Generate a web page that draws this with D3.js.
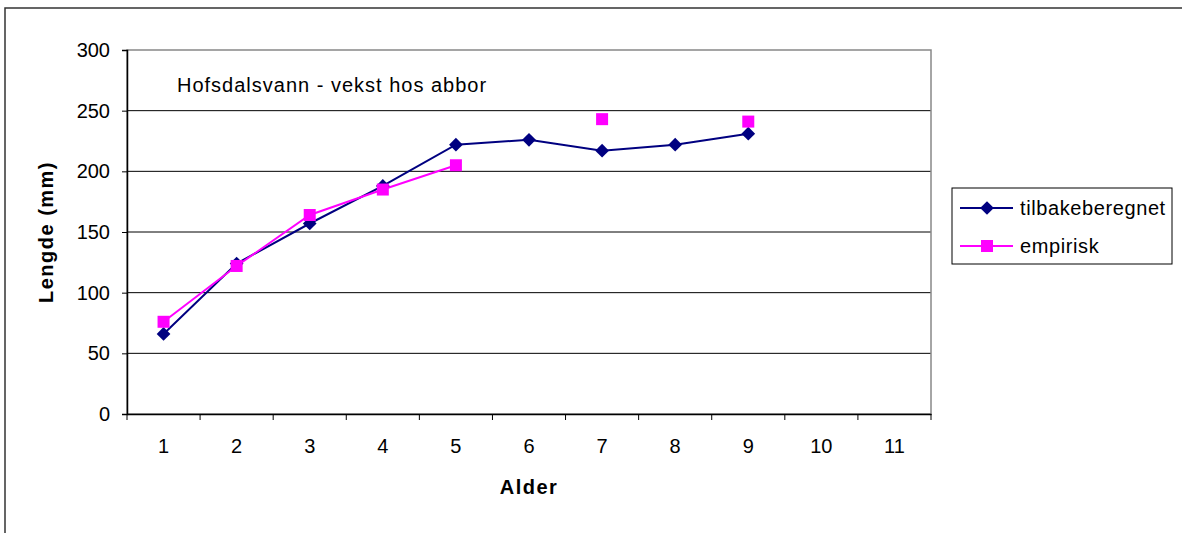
<!DOCTYPE html>
<html>
<head>
<meta charset="utf-8">
<script src="https://cdn.jsdelivr.net/npm/d3@7"></script>
<style>
  body { margin: 0; background: #fff; }
  text { font-family: "Liberation Sans", Arial, sans-serif; fill: #000; }
</style>
</head>
<body>
<svg id="chart" width="1182" height="533"></svg>
<script>
// data
var ages = ["1", "2", "3", "4", "5", "6", "7", "8", "9", "10", "11"];
var tilbakeberegnet = [66, 124, 157, 188, 222, 226, 217, 222, 231, null, null];
var empirisk = [76, 122, 164, 185, 205, null, 243, null, 241, null, null];
var yTicks = [0, 50, 100, 150, 200, 250, 300];

var svg = d3.select("#chart");

// outer chart border
svg.append("rect")
    .attr("x", 5).attr("y", 8)
    .attr("width", 1200).attr("height", 600)
    .attr("fill", "#fff")
    .attr("stroke", "#333")
    .attr("stroke-width", 1.5);

var plot = {left: 127, top: 50, right: 931, bottom: 414};
var w = plot.right - plot.left, h = plot.bottom - plot.top;

var x = d3.scaleBand().domain(ages).range([plot.left, plot.right]);
var y = d3.scaleLinear().domain([0, 300]).range([plot.bottom, plot.top]);

var g = svg.append("g");

// grid lines
g.selectAll(".grid")
    .data(yTicks.filter(function(d) { return d > 0 && d < 300; }))
    .enter().append("line")
    .attr("x1", plot.left).attr("x2", plot.right)
    .attr("y1", function(d) { return y(d); })
    .attr("y2", function(d) { return y(d); })
    .attr("stroke", "#000")
    .attr("stroke-width", 1);

// plot area border (gray)
g.append("rect")
    .attr("x", plot.left).attr("y", plot.top)
    .attr("width", w).attr("height", h)
    .attr("fill", "none")
    .attr("stroke", "#888")
    .attr("stroke-width", 1.5);

// y axis
var yAxis = g.append("g")
    .attr("transform", "translate(" + plot.left + ",0)")
    .call(d3.axisLeft(y).tickValues(yTicks).tickSize(5).tickPadding(12));
yAxis.select(".domain").attr("stroke", "#000").attr("stroke-width", 1.5);
yAxis.selectAll("text").style("font-size", "20px")
    .style("font-family", "Liberation Sans, Arial, sans-serif");

// x axis, ticks between categories
var xAxis = g.append("g")
    .attr("transform", "translate(0," + plot.bottom + ")")
    .call(d3.axisBottom(x).tickSize(0).tickPadding(25));
xAxis.select(".domain").attr("stroke", "#000").attr("stroke-width", 1.5);
xAxis.selectAll("text").style("font-size", "20px")
    .style("font-family", "Liberation Sans, Arial, sans-serif");
xAxis.selectAll(".bound")
    .data(d3.range(ages.length + 1))
    .enter().append("line")
    .attr("class", "bound")
    .attr("x1", function(i) { return plot.left + i * x.bandwidth(); })
    .attr("x2", function(i) { return plot.left + i * x.bandwidth(); })
    .attr("y1", 0).attr("y2", 6)
    .attr("stroke", "#000");

function cx(i) { return x(ages[i]) + x.bandwidth() / 2; }

// lines
var line = d3.line()
    .defined(function(d) { return d != null; })
    .x(function(d, i) { return cx(i); })
    .y(function(d) { return y(d); });

g.append("path").datum(tilbakeberegnet)
    .attr("d", line).attr("fill", "none")
    .attr("stroke", "#000080").attr("stroke-width", 2);

g.append("path").datum(empirisk)
    .attr("d", line).attr("fill", "none")
    .attr("stroke", "#FF00FF").attr("stroke-width", 2);

// markers
var diamond = d3.symbol().type(d3.symbolDiamond2).size(120);

g.selectAll(".dot1")
    .data(tilbakeberegnet.map(function(v, i) { return {v: v, i: i}; })
        .filter(function(d) { return d.v != null; }))
    .enter().append("path")
    .attr("class", "dot1")
    .attr("d", diamond)
    .attr("transform", function(d) { return "translate(" + cx(d.i) + "," + y(d.v) + ")"; })
    .attr("fill", "#000080");

g.selectAll(".dot2")
    .data(empirisk.map(function(v, i) { return {v: v, i: i}; })
        .filter(function(d) { return d.v != null; }))
    .enter().append("rect")
    .attr("class", "dot2")
    .attr("x", function(d) { return cx(d.i) - 6; })
    .attr("y", function(d) { return y(d.v) - 6; })
    .attr("width", 12).attr("height", 12)
    .attr("fill", "#FF00FF");

// texts
svg.append("text")
    .attr("x", 177).attr("y", 92)
    .style("font-size", "20px")
    .style("letter-spacing", "1px")
    .text("Hofsdalsvann - vekst hos abbor");

svg.append("text")
    .attr("transform", "translate(53,232) rotate(-90)")
    .attr("text-anchor", "middle")
    .style("font-size", "20px").style("font-weight", "bold")
    .style("letter-spacing", "1.5px")
    .text("Lengde (mm)");

svg.append("text")
    .attr("x", (plot.left + plot.right) / 2).attr("y", 494)
    .attr("text-anchor", "middle")
    .style("font-size", "20px").style("font-weight", "bold")
    .style("letter-spacing", "1.5px")
    .text("Alder");

// legend
var leg = svg.append("g");
leg.append("rect")
    .attr("x", 952).attr("y", 188)
    .attr("width", 220).attr("height", 76)
    .attr("fill", "#fff").attr("stroke", "#000").attr("stroke-width", 1);

var legItems = [
    {name: "tilbakeberegnet", color: "#000080", shape: "diamond"},
    {name: "empirisk", color: "#FF00FF", shape: "square"}
];
legItems.forEach(function(it, k) {
    var ly = 208 + k * 38;
    leg.append("line")
        .attr("x1", 960).attr("x2", 1013)
        .attr("y1", ly).attr("y2", ly)
        .attr("stroke", it.color).attr("stroke-width", 2);
    if (it.shape == "diamond") {
        leg.append("path").attr("d", diamond)
            .attr("transform", "translate(987," + ly + ")")
            .attr("fill", it.color);
    } else {
        leg.append("rect")
            .attr("x", 981).attr("y", ly - 6)
            .attr("width", 12).attr("height", 12)
            .attr("fill", it.color);
    }
    leg.append("text")
        .attr("x", 1020).attr("y", ly + 7)
        .style("font-size", "20px")
        .style("letter-spacing", "0.6px")
        .text(it.name);
});
</script>
</body>
</html>
